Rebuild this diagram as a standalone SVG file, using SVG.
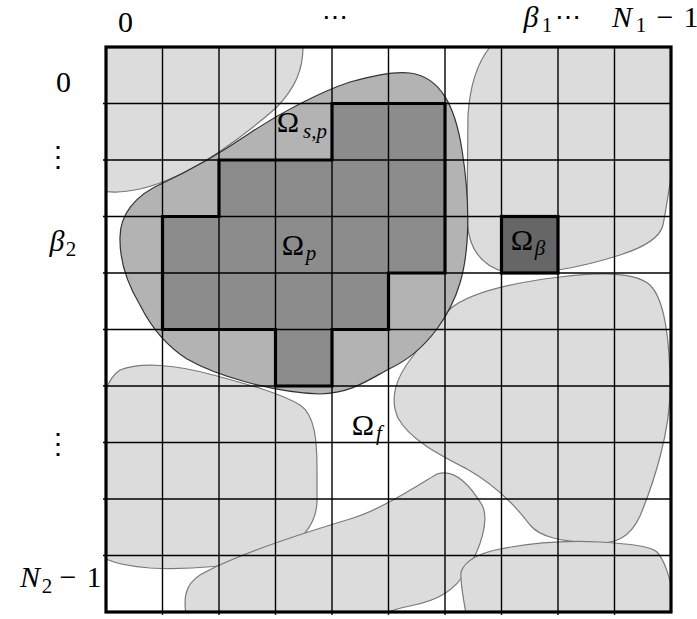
<svg xmlns="http://www.w3.org/2000/svg" width="697" height="619" viewBox="0 0 697 619">
<defs>
<clipPath id="box"><rect x="106" y="47" width="565" height="565"/></clipPath>
<style>
.light{fill:#dcdcdc;stroke:#7a7a7a;stroke-width:1.2}
.med{fill:#b3b3b3;stroke:#333;stroke-width:1.2}
.grid line{stroke:#000;stroke-width:1.4}
.thick{fill:none;stroke:#000;stroke-width:3.2;stroke-linejoin:miter}
</style>
</defs>
<rect width="697" height="619" fill="#fff"/>
<g id="blobs" clip-path="url(#box)">
<path class="light" d="M95,40 L303,40 L303,47 C303,70 295,88 277,107 C260,122 240,138 219,152 C195,168 170,182 140,189 C120,193 110,193 95,190 Z"/>
<path class="light" d="M490,47 C478,62 470,85 468,115 L467,215 C467,245 478,265 505,272 C530,277 580,268 620,255 C645,247 660,238 663,225 C666,210 668,195 671,178 L680,178 L680,40 L495,40 Z"/>
<path class="light" d="M450,309 C470,292 510,283 560,277 C600,272 635,272 650,285 C665,300 670,340 670,390 C670,430 655,480 640,516 C630,538 615,545 590,543 C560,541 540,537 530,525 C515,505 495,485 467,469 C440,455 410,440 398,418 C390,400 395,380 410,360 C425,340 438,322 450,309 Z"/>
<path class="light" d="M100,420 C103,400 105,380 120,370 C140,362 175,364 217,376 C250,385 280,393 300,405 C315,415 317,440 317,470 L317,500 C317,525 300,545 270,556 C240,566 190,570 150,568 C125,566 110,562 100,556 Z"/>
<path class="light" d="M187,620 C183,600 184,585 200,575 C230,558 290,537 350,519 C380,510 410,490 437,474 C455,468 470,485 482,505 C490,520 480,550 467,570 C455,590 440,600 410,606 C395,609 385,612 380,620 Z"/>
<path class="light" d="M467,620 C464,600 460,585 461,572 C465,560 480,553 500,549 C530,543 560,540 600,542 C630,544 650,546 657,552 C666,562 670,580 675,600 L675,620 Z"/>
<path class="med" d="M120,240 C119,215 135,195 163,183 C195,168 225,150 250,133 C280,113 320,92 350,82 C375,75 395,71 410,73 C440,77 455,105 462,150 C470,200 470,250 460,283 C452,310 430,350 389,369 C365,382 350,393 320,394 C270,392 215,375 187,359 C165,345 150,325 140,305 C128,285 120,262 120,240 Z"/>
</g>
<g id="omega-p">
<path d="M332,103.5 H445 V273 H388.5 V329.5 H332 V386 H275.5 V329.5 H162.5 V216.5 H219 V160 H332 Z" fill="#8c8c8c"/>
</g>
<g id="omega-beta">
<rect x="501.5" y="216.5" width="56.5" height="56.5" fill="#666"/>
</g>
<g class="grid" id="grid">
<line x1="162.5" y1="47" x2="162.5" y2="615"/>
<line x1="219" y1="47" x2="219" y2="615"/>
<line x1="275.5" y1="47" x2="275.5" y2="615"/>
<line x1="332" y1="47" x2="332" y2="615"/>
<line x1="388.5" y1="47" x2="388.5" y2="615"/>
<line x1="445" y1="47" x2="445" y2="615"/>
<line x1="501.5" y1="47" x2="501.5" y2="615"/>
<line x1="558" y1="47" x2="558" y2="615"/>
<line x1="614.5" y1="47" x2="614.5" y2="615"/>
<line x1="103" y1="103.5" x2="671" y2="103.5"/>
<line x1="103" y1="160" x2="671" y2="160"/>
<line x1="103" y1="216.5" x2="671" y2="216.5"/>
<line x1="103" y1="273" x2="671" y2="273"/>
<line x1="103" y1="329.5" x2="671" y2="329.5"/>
<line x1="103" y1="386" x2="671" y2="386"/>
<line x1="103" y1="442.5" x2="671" y2="442.5"/>
<line x1="103" y1="499" x2="671" y2="499"/>
<line x1="103" y1="555.5" x2="671" y2="555.5"/>
</g>
<g id="outlines">
<path class="thick" d="M332,103.5 H445 V273 H388.5 V329.5 H332 V386 H275.5 V329.5 H162.5 V216.5 H219 V160 H332 Z"/>
<rect class="thick" x="501.5" y="216.5" width="56.5" height="56.5"/>
<rect class="thick" x="106" y="47" width="565" height="565" stroke-width="3"/>
</g>
<g id="labels" font-family="Liberation Serif, DejaVu Serif, serif" font-size="30" fill="#000" text-anchor="middle">
<text x="125.5" y="32">0</text>
<text x="335" y="26" font-family="DejaVu Serif, serif" font-size="26">⋯</text>
<text><tspan font-style="italic" x="531" y="27">β</tspan><tspan font-size="21" x="547" y="32">1</tspan></text>
<text x="568" y="26" font-family="DejaVu Serif, serif" font-size="26">⋯</text>
<text><tspan font-style="italic" x="622" y="27">N</tspan><tspan font-size="21" x="641" y="32">1</tspan><tspan x="665" y="27">−</tspan><tspan x="691" y="27">1</tspan></text>
<text x="63.5" y="92">0</text>
<text x="58" y="166" font-family="DejaVu Serif, serif" font-size="28">⋮</text>
<text><tspan font-style="italic" x="57" y="251">β</tspan><tspan font-size="21" x="71" y="256">2</tspan></text>
<text x="58" y="453" font-family="DejaVu Serif, serif" font-size="28">⋮</text>
<text><tspan font-style="italic" x="30" y="587">N</tspan><tspan font-size="21" x="47" y="593">2</tspan><tspan x="68" y="587">−</tspan><tspan x="94" y="587">1</tspan></text>
<text><tspan x="288" y="132">Ω</tspan><tspan font-size="21" font-style="italic" x="315" y="138">s,p</tspan></text>
<text><tspan x="293" y="255">Ω</tspan><tspan font-size="21" font-style="italic" x="311" y="260">p</tspan></text>
<text><tspan x="363" y="435">Ω</tspan><tspan font-size="21" font-style="italic" x="379" y="440">f</tspan></text>
<text><tspan x="522" y="250">Ω</tspan><tspan font-size="21" font-style="italic" x="540" y="255">β</tspan></text>
</g>
</svg>
